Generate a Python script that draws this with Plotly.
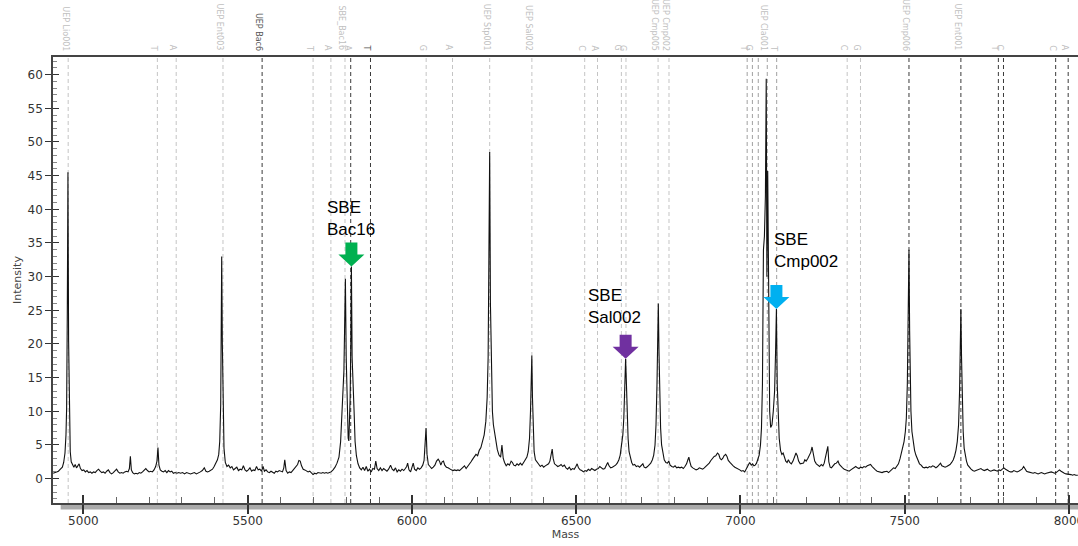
import plotly.graph_objects as go

# ---------------- data ----------------
MASS = [4908, 4916, 4924, 4930, 4936, 4940, 4944, 4947, 4949, 4951, 4953, 4955, 4957, 4960, 4963, 4967, 4971, 4975, 4979, 4983,
        4987, 4991, 4996, 5001, 5006, 5011, 5016, 5021, 5026, 5031, 5036, 5041, 5046, 5051, 5056, 5061, 5066, 5071, 5076, 5081,
        5086, 5091, 5096, 5101, 5106, 5111, 5116, 5121, 5126, 5131, 5136, 5140, 5143, 5146, 5150, 5155, 5160, 5165, 5170, 5175,
        5180, 5185, 5190, 5195, 5200, 5205, 5210, 5215, 5220, 5224, 5227, 5230, 5234, 5239, 5244, 5249, 5254, 5259, 5264, 5269,
        5274, 5279, 5285, 5290, 5296, 5302, 5308, 5314, 5320, 5326, 5332, 5338, 5344, 5350, 5356, 5362, 5368, 5373, 5378, 5383,
        5388, 5393, 5398, 5403, 5408, 5412, 5415, 5418, 5420, 5421, 5423, 5425, 5428, 5432, 5437, 5442, 5447, 5452, 5457, 5462,
        5467, 5472, 5477, 5482, 5487, 5492, 5497, 5502, 5507, 5512, 5517, 5522, 5527, 5532, 5537, 5542, 5547, 5551, 5556, 5561,
        5566, 5571, 5576, 5581, 5586, 5591, 5596, 5601, 5606, 5610, 5613, 5617, 5622, 5627, 5632, 5637, 5642, 5647, 5652, 5656,
        5660, 5664, 5669, 5674, 5679, 5684, 5689, 5694, 5699, 5704, 5709, 5714, 5719, 5724, 5729, 5734, 5739, 5744, 5749, 5754,
        5760, 5766, 5772, 5778, 5783, 5787, 5790, 5793, 5795, 5797.5, 5800, 5803, 5806, 5808, 5810, 5812, 5814, 5815.8, 5818, 5821,
        5824, 5827, 5831, 5836, 5841, 5846, 5851, 5856, 5861, 5866, 5871, 5876, 5881, 5886, 5890, 5894, 5899, 5904, 5909, 5914,
        5919, 5924, 5929, 5935, 5940, 5945, 5950, 5955, 5960, 5965, 5970, 5975, 5980, 5984, 5987, 5991, 5996, 6000, 6004, 6008,
        6013, 6018, 6023, 6028, 6033, 6037, 6040, 6043, 6046, 6050, 6055, 6060, 6065, 6070, 6075, 6080, 6084, 6088, 6092, 6096,
        6100, 6105, 6110, 6115, 6120, 6125, 6130, 6135, 6140, 6145, 6150, 6155, 6160, 6165, 6170, 6175, 6180, 6185, 6190, 6195,
        6200, 6205, 6210, 6215, 6220, 6225, 6229, 6232, 6234.5, 6236.7, 6239, 6242, 6245, 6248, 6252, 6256, 6260, 6265, 6270, 6274,
        6278, 6282, 6287, 6292, 6297, 6302, 6306, 6310, 6315, 6320, 6325, 6330, 6335, 6340, 6345, 6350, 6354, 6358, 6361, 6363,
        6365, 6367, 6369, 6372, 6376, 6381, 6386, 6391, 6396, 6401, 6406, 6411, 6416, 6420, 6424, 6427, 6430, 6434, 6439, 6444,
        6449, 6454, 6459, 6464, 6469, 6474, 6479, 6484, 6489, 6494, 6499, 6503, 6507, 6512, 6517, 6522, 6527, 6532, 6537, 6542,
        6547, 6552, 6557, 6562, 6567, 6572, 6577, 6582, 6587, 6592, 6596, 6600, 6605, 6610, 6615, 6620, 6625, 6630, 6634, 6638,
        6642, 6645, 6648, 6650.5, 6653, 6655, 6658, 6661, 6665, 6669, 6673, 6678, 6683, 6688, 6693, 6698, 6703, 6707, 6712, 6717,
        6722, 6727, 6732, 6736, 6740, 6743, 6746, 6748, 6750, 6752, 6754, 6757, 6760, 6764, 6768, 6773, 6778, 6782, 6786, 6791,
        6796, 6801, 6806, 6811, 6816, 6821, 6826, 6831, 6836, 6840, 6843, 6846, 6850, 6855, 6860, 6865, 6870, 6875, 6880, 6885,
        6890, 6895, 6900, 6905, 6910, 6915, 6920, 6925, 6930, 6934, 6938, 6942, 6946, 6950, 6955, 6959, 6963, 6968, 6973, 6978,
        6983, 6988, 6993, 6998, 7003, 7008, 7013, 7018, 7023, 7028, 7033, 7037, 7041, 7045, 7049, 7053, 7057, 7061, 7064, 7067,
        7070, 7073, 7076, 7078.5, 7080.5, 7083, 7086, 7089, 7092, 7096, 7100, 7104, 7107, 7109.5, 7112, 7115, 7118, 7122, 7126, 7130,
        7134, 7138, 7142, 7146, 7150, 7155, 7160, 7165, 7169, 7173, 7177, 7182, 7187, 7192, 7196, 7200, 7205, 7210, 7214, 7218,
        7222, 7226, 7231, 7236, 7241, 7246, 7251, 7255, 7259, 7263, 7266, 7269, 7273, 7277, 7282, 7287, 7292, 7297, 7301, 7306,
        7311, 7316, 7321, 7326, 7331, 7336, 7341, 7346, 7351, 7356, 7361, 7366, 7371, 7376, 7381, 7386, 7391, 7396, 7401, 7406,
        7411, 7416, 7421, 7426, 7431, 7436, 7441, 7446, 7451, 7456, 7461, 7466, 7471, 7476, 7481, 7486, 7490, 7494, 7498, 7502,
        7505, 7508, 7510, 7511.5, 7513, 7515, 7517, 7519, 7522, 7526, 7530, 7534, 7537, 7541, 7545, 7550, 7555, 7560, 7565, 7570,
        7575, 7580, 7585, 7590, 7595, 7600, 7605, 7609, 7613, 7618, 7623, 7628, 7633, 7638, 7643, 7648, 7652, 7656, 7660, 7664,
        7667, 7669.5, 7671, 7673, 7675, 7678, 7681, 7684, 7688, 7692, 7697, 7702, 7707, 7712, 7717, 7722, 7727, 7732, 7737, 7742,
        7747, 7752, 7757, 7762, 7767, 7772, 7777, 7782, 7787, 7792, 7797, 7802, 7807, 7812, 7817, 7822, 7827, 7832, 7837, 7842,
        7847, 7852, 7857, 7862, 7866, 7871, 7876, 7881, 7886, 7891, 7896, 7901, 7906, 7911, 7916, 7921, 7926, 7931, 7936, 7941,
        7946, 7951, 7956, 7961, 7966, 7971, 7976, 7981, 7986, 7991, 7996, 8001, 8006, 8011, 8016, 8021, 8027]

INTENSITY = [0.8, 0.9, 1.1, 1.4, 1.7, 2.4, 3.8, 6.5, 10.5, 24.5, 45.5, 20.5, 10, 4, 2.5, 2.2, 1.7, 2.1, 1.6, 1.9,
             2.2, 1.5, 1.2, 1.3, 1.0, 1.2, 0.9, 1.0, 0.8, 1.0, 0.9, 1.2, 1.4, 1.1, 0.9, 1.0, 0.8, 1.1, 1.3, 0.9,
             0.7, 0.9, 1.2, 1.4, 1.0, 0.8, 0.9, 0.8, 1.0, 1.1, 1.0, 1.5, 3.3, 1.3, 0.9, 0.7, 0.8, 0.7, 0.9, 0.8,
             1.0, 1.3, 1.5, 1.2, 1.0, 1.1, 1.0, 1.3, 1.8, 2.6, 4.6, 2.0, 1.3, 1.1, 1.0, 1.2, 0.9, 1.2, 1.0, 1.1,
             0.8, 0.9, 0.8, 0.9, 0.8, 0.9, 0.7, 0.9, 0.8, 0.7, 0.8, 0.9, 0.7, 0.8, 1.0, 1.2, 1.6, 1.1, 1.0, 1.1,
             1.3, 1.4, 1.8, 2.2, 2.8, 3.6, 5.5, 11, 20.5, 33, 20, 11, 4.5, 2.4, 1.8, 2.0, 1.6, 1.8, 1.3, 1.5,
             1.7, 1.2, 1.4, 1.3, 1.9, 1.3, 1.1, 1.3, 1.6, 1.1, 1.3, 1.2, 1.8, 1.3, 1.4, 1.1, 1.8, 1.1, 1.3, 1.0,
             0.9, 1.1, 1.0, 0.8, 1.1, 1.0, 1.2, 1.1, 1.0, 1.6, 2.8, 1.2, 0.8, 1.0, 0.9, 1.2, 1.5, 1.9, 2.1, 2.7,
             2.6, 1.9, 1.4, 1.3, 1.1, 1.0, 1.1, 0.9, 0.6, 0.8, 0.7, 0.9, 0.8, 0.8, 0.9, 0.8, 0.9, 0.8, 0.9, 1.0,
             1.3, 1.7, 2.3, 3.2, 5.5, 9, 12, 16, 22, 29.7, 18, 10, 6, 5.6, 8, 12, 20, 31.5, 18, 12,
             10, 5.5, 3.4, 2.2, 1.6, 1.3, 1.7, 1.2, 1.8, 1.1, 1.4, 1.0, 1.5, 1.4, 2.6, 1.5, 1.2, 1.6, 1.2, 1.5,
             1.3, 1.1, 1.4, 2.0, 1.4, 1.2, 1.6, 1.0, 1.3, 1.1, 1.4, 1.2, 1.5, 1.8, 2.3, 1.3, 1.0, 1.5, 2.3, 1.4,
             1.2, 1.6, 1.4, 1.6, 2.0, 2.7, 4.5, 7.5, 3.6, 2.1, 1.8, 1.5, 1.7, 2.0, 2.6, 2.9, 2.6, 2.0, 2.5, 2.6,
             2.0, 1.7, 1.6, 1.4, 1.3, 1.2, 1.3, 1.2, 1.3, 1.2, 1.4, 1.6, 1.9, 1.5, 1.8, 2.2, 2.5, 2.9, 3.3, 3.6,
             3.4, 4.2, 4.6, 5.5, 6.5, 8.5, 12, 18, 30, 48.5, 26, 15, 10, 8, 6.5, 5, 4.3, 3.5, 3.2, 5.0,
             3.0, 2.4, 1.9, 2.2, 2.0, 2.6, 2.4, 2.0, 1.9, 2.2, 2.0, 2.3, 2.0, 2.4, 2.8, 3.2, 4.0, 6, 10, 14,
             18.3, 12, 7, 4, 2.8, 2.4, 2.0, 1.8, 2.0, 1.7, 1.9, 2.0, 2.2, 2.6, 3.5, 4.4, 3.0, 2.2, 2.0, 1.8,
             1.9, 2.1, 1.8, 2.0, 1.6, 1.4, 1.7, 1.3, 1.5, 1.4, 1.8, 2.2, 1.6, 1.3, 1.2, 1.0, 1.2, 1.1, 1.4, 1.2,
             1.5, 1.3, 1.2, 1.4, 1.5, 1.8, 1.6, 1.4, 1.5, 1.9, 2.4, 1.9, 1.6, 1.7, 1.8, 2.0, 2.3, 2.8, 3.5, 4.8,
             6.5, 9, 13, 17.8, 14, 9, 6, 4, 3.0, 2.4, 2.0, 2.1, 1.8, 1.9, 1.7, 1.9, 2.2, 1.7, 1.6, 1.8,
             2.0, 2.3, 2.8, 3.5, 5.0, 8, 14, 20, 26, 19, 12, 7.5, 5.0, 3.6, 2.8, 2.4, 2.3, 2.6, 2.0, 1.8,
             1.7, 1.9, 1.6, 1.7, 1.6, 1.7, 1.5, 1.8, 2.2, 2.8, 3.2, 2.5, 1.8, 1.6, 1.5, 1.3, 1.4, 1.6, 1.5, 1.4,
             1.6, 1.8, 2.0, 2.3, 2.7, 3.0, 3.3, 3.4, 3.8, 3.6, 3.0, 2.8, 3.0, 3.4, 3.6, 3.3, 2.7, 2.4, 2.1, 1.9,
             1.7, 1.6, 1.4, 1.3, 1.1, 1.2, 1.0, 1.4, 1.8, 2.4, 2.0, 2.2, 1.9, 2.0, 2.3, 2.8, 3.5, 5, 7.5, 14,
             34, 36, 42, 59.4, 30, 45.7, 18, 10, 7.6, 8, 10, 13, 19, 25.2, 14, 10.4, 6, 4.2, 3.6, 3.8,
             3.2, 2.6, 2.4, 2.8, 2.4, 2.2, 2.6, 3.2, 3.8, 3.4, 2.6, 2.2, 2.3, 2.3, 2.8, 2.6, 3.0, 3.4, 3.9, 4.7,
             3.5, 2.6, 2.2, 2.0, 1.8, 2.1, 1.9, 2.3, 3.2, 4.6, 4.8, 2.5, 1.7, 1.6, 1.9, 2.2, 2.3, 2.6, 2.1, 1.8,
             1.6, 1.4, 1.3, 1.2, 1.1, 1.3, 1.5, 1.7, 1.8, 1.6, 1.5, 1.7, 1.6, 1.8, 1.7, 1.9, 2.0, 2.1, 1.8, 1.5,
             1.3, 1.1, 1.0, 1.0, 0.9, 1.0, 1.0, 1.1, 0.9, 1.1, 1.4, 1.6, 1.5, 1.8, 2.2, 3.0, 3.8, 4.5, 5.5, 7,
             9, 14, 20, 26, 34, 22, 14, 10, 7, 5.5, 4.2, 3.5, 3.1, 2.5, 2.2, 2.0, 1.7, 1.6, 1.7, 1.6,
             1.8, 1.7, 1.9, 1.8, 1.6, 1.8, 2.1, 2.3, 1.9, 1.8, 1.7, 1.8, 1.9, 2.1, 2.4, 2.8, 3.4, 4.2, 5.5, 8,
             13, 20, 25.2, 18, 12, 7, 4.5, 3.4, 2.6, 2.0, 1.6, 1.4, 1.2, 1.1, 1.2, 1.3, 1.4, 1.5, 1.3, 1.2,
             1.3, 1.4, 1.2, 1.1, 1.2, 1.3, 1.2, 1.1, 1.3, 1.2, 1.4, 1.6, 1.4, 1.2, 1.1, 1.0, 1.0, 1.2, 1.1, 1.0,
             1.1, 1.2, 1.4, 1.8, 1.5, 1.1, 1.0, 0.9, 0.9, 0.8, 0.9, 0.8, 0.7, 0.8, 0.9, 0.8, 0.7, 0.8, 0.9, 0.9,
             1.0, 0.9, 0.8, 0.9, 1.1, 1.3, 1.1, 0.9, 0.8, 0.7, 0.7, 0.6, 0.6, 0.5, 0.6, 0.5, 0.5]

# marker lines: position, label, line tone
MARKER_MASS = [4953.7, 5225.2, 5282.5, 5424.9, 5544.0, 5699.2, 5753.4, 5796.3, 5813.7, 5873.9,
               6043.4, 6123.5, 6236.7, 6365.2, 6525.9, 6564.9, 6637.6, 6651.6, 6749.3, 6782.5,
               7020.5, 7036.4, 7054.3, 7081.7, 7110.3, 7324.9, 7365.4, 7513.0, 7671.0, 7785.1,
               7800.7, 7959.5, 7997.6]
MARKER_LABEL = ["UEP Lio001", "T", "A", "UEP Ent003", "UEP Bac6", "T", "A", "SBE_Bac16", "A", "T",
                "G", "A", "UEP Stp001", "UEP Sal002", "C", "A", "G", "G", "UEP Cmp005", "UEP Cmp002",
                "T", "G", "", "UEP Cla001", "T", "C", "G", "UEP Cmp006", "UEP Ent001", "T",
                "C", "C", "A"]
MARKER_TONE = ["light", "light", "light", "light", "dark", "light", "light", "light", "dark", "dark",
               "light", "light", "light", "light", "light", "light", "light", "light", "light", "light",
               "mid", "mid", "mid", "mid", "mid", "light", "light", "dark", "dark", "dark",
               "dark", "dark", "dark"]
DARK_LABELS = ["UEP Bac6"]

# highlighted peaks
PEAK_NAMES = ["SBE<br>Bac16", "SBE<br>Sal002", "SBE<br>Cmp002"]
PEAK_MASS = [5815.8, 6650.5, 7109.5]
PEAK_INT = [31.5, 17.8, 25.2]
PEAK_COLORS = ["#00b050", "#7030a0", "#00b0f0"]

X_TICKS = [5000, 5500, 6000, 6500, 7000, 7500, 8000]
Y_TICKS = [0, 5, 10, 15, 20, 25, 30, 35, 40, 45, 50, 55, 60]
X_RANGE = [4907.5, 8027.5]
Y_RANGE = [-3.62, 62.62]

# ---------------- figure ----------------
TONES = {"light": "#c4c4c4", "mid": "#a0a0a0", "dark": "#3a3a3a"}

fig = go.Figure()
fig.add_trace(go.Scatter(x=MASS, y=INTENSITY, mode="lines",
                         line=dict(color="#111111", width=1.1),
                         hoverinfo="skip", showlegend=False))
# invisible trace for the overlay axes (inner ticks)
fig.add_trace(go.Scatter(x=[MASS[0]], y=[INTENSITY[0]], xaxis="x2", yaxis="y2",
                         mode="markers", marker=dict(opacity=0), hoverinfo="skip",
                         showlegend=False))

shapes = []
annotations = []
for m, lab, tone in zip(MARKER_MASS, MARKER_LABEL, MARKER_TONE):
    shapes.append(dict(type="line", xref="x", yref="paper", x0=m, x1=m, y0=0, y1=1,
                       line=dict(color=TONES[tone], width=1, dash="4px,3px"), layer="below"))
    if lab:
        col = "#555555" if (lab in DARK_LABELS or (lab == "T" and abs(m - 5873.9) < 1)) else "#bfbfbf"
        annotations.append(dict(x=m, y=1, xref="x", yref="paper", text=lab, showarrow=False,
                                textangle=90, xanchor="center", yanchor="bottom",
                                xshift=-3, yshift=4,
                                font=dict(family="DejaVu Sans", size=8, color=col)))

# gray band under the x axis
shapes.append(dict(type="rect", xref="paper", yref="paper", x0=0.0075, x1=1.0,
                   y0=-0.0145, y1=-0.001, fillcolor="#aaaaaa", line=dict(width=0), layer="below"))

# block arrows pointing at the highlighted peaks
for m, v, c in zip(PEAK_MASS, PEAK_INT, PEAK_COLORS):
    path = "M 0 0 L -13 12 L -6 12 L -6 24 L 6 24 L 6 12 L 13 12 Z"
    shapes.append(dict(type="path", xref="x", yref="y", xsizemode="pixel", ysizemode="pixel",
                       xanchor=m, yanchor=v, path=path, fillcolor=c, line=dict(width=0), layer="above"))

SHIFTS = [(-26, 26), (-40, 30), (-4, 36)]
for name, m, v, (dx, dy) in zip(PEAK_NAMES, PEAK_MASS, PEAK_INT, SHIFTS):
    annotations.append(dict(x=m, y=v, xref="x", yref="y", text=name, showarrow=False,
                            xanchor="left", yanchor="bottom", align="left",
                            xshift=dx, yshift=dy,
                            font=dict(family="Liberation Sans, Arial", size=17, color="#000000")))

tickfont = dict(family="DejaVu Sans", size=12, color="#333333")
fig.update_layout(
    width=1078, height=546,
    margin=dict(l=53, r=0, t=57, b=43, autoexpand=False),
    paper_bgcolor="white", plot_bgcolor="white",
    showlegend=False,
    shapes=shapes, annotations=annotations,
    xaxis=dict(range=X_RANGE, tickmode="array", tickvals=X_TICKS, ticktext=[str(t) for t in X_TICKS],
               ticks="outside", ticklen=9, tickwidth=1.5, tickcolor="#333333", ticklabelstandoff=-3,
               ticklabeloverflow="allow", automargin=False,
               showline=True, linecolor="#444444", linewidth=2, mirror=True,
               showgrid=False, zeroline=False, tickfont=tickfont,
               title=dict(text="Mass", font=dict(family="DejaVu Sans", size=11, color="#444444"), standoff=2)),
    xaxis2=dict(range=X_RANGE, overlaying="x", anchor="y2", side="bottom", automargin=False,
                tickmode="array", tickvals=X_TICKS, ticks="inside", ticklen=8, tickwidth=1.5,
                tickcolor="#333333", showticklabels=False, showline=False, showgrid=False, zeroline=False,
                minor=dict(ticks="inside", ticklen=6, dtick=100, tick0=5000, tickcolor="#666666", tickwidth=1)),
    yaxis=dict(range=Y_RANGE, tickmode="array", tickvals=Y_TICKS, ticktext=[str(t) for t in Y_TICKS],
               ticks="outside", ticklen=6, tickwidth=1.2, tickcolor="#333333", automargin=False,
               showline=True, linecolor="#444444", linewidth=1.5, mirror=False,
               showgrid=False, zeroline=False, tickfont=tickfont,
               title=dict(text="Intensity", font=dict(family="DejaVu Sans", size=11, color="#444444"), standoff=4)),
    yaxis2=dict(range=Y_RANGE, overlaying="y", anchor="x2", side="left", automargin=False,
                tickmode="array", tickvals=Y_TICKS, ticks="inside", ticklen=6, tickwidth=1.2,
                tickcolor="#333333", showticklabels=False, showline=False, showgrid=False, zeroline=False,
                minor=dict(ticks="inside", ticklen=4, dtick=1, tick0=0, tickcolor="#888888", tickwidth=1)),
)

# remove the default 8px page margin so the figure sits at the window's top-left corner
fig.write_html("out.html", config={"displayModeBar": False},
               post_script="document.body.style.margin='0';document.body.style.overflow='hidden';")
